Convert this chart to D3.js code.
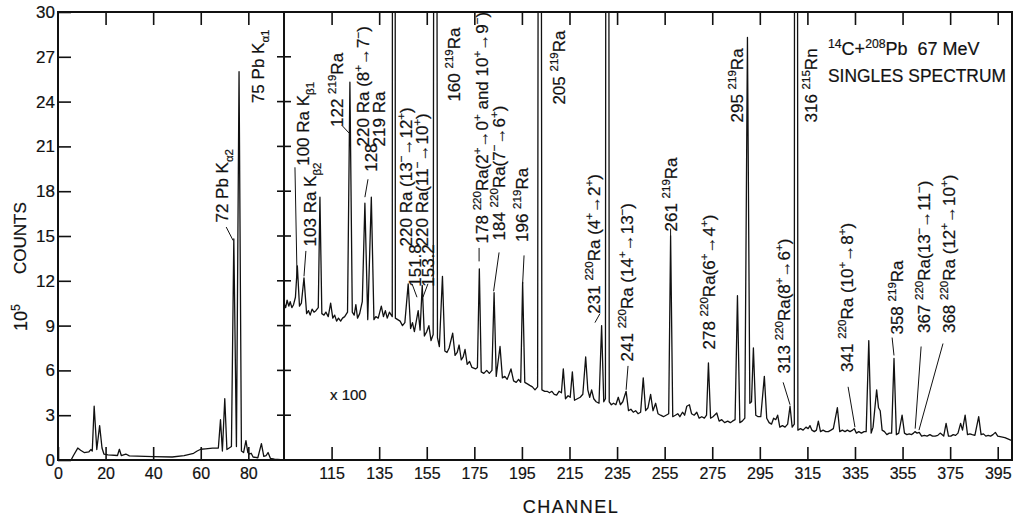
<!DOCTYPE html>
<html lang="en">
<head>
<meta charset="UTF-8">
<title>14C + 208Pb 67 MeV singles spectrum</title>
<script src="https://d3js.org/d3.v7.min.js"></script>
<style>
  body { margin: 0; background: #fff; }
  svg { display: block; font-family: "Liberation Sans", Arial, sans-serif; }
  .frame { fill: none; stroke: #111; stroke-width: 2; }
  .spec { fill: none; stroke: #111; stroke-width: 1.3; stroke-linejoin: round; }
  .tick line, .tk { stroke: #111; stroke-width: 1.6; }
  .lead { stroke: #111; stroke-width: 1; }
  text { fill: #111; white-space: pre; stroke: #111; stroke-width: 0.2px; }
</style>
</head>
<body>
<svg width="1014" height="520"></svg>
<script>
// [channel, counts / 1e5]  -- low channels, true scale
const lowSpectrum = [
  [5.5,0],[6.5,0.3],[8.3,0.8],[9.5,0.65],[11,0.5],[13,0.55],[13.8,0.7],[14.4,0.6],
  [15.2,3.6],[16.3,0.7],[17.5,2.3],[18.5,0.8],[19.3,0.4],[21,0.35],[25,0.3],[25.8,0.72],
  [26.6,0.3],[28.5,0.4],[30,0.28],[40,0.22],[48,0.2],[53,0.3],[57,0.45],[58.5,0.6],
  [60,0.72],[62,0.75],[65,0.8],[67.4,0.8],[68.3,2.7],[69.1,0.6],[70.1,4.1],[71,0.7],
  [72.9,0.9],[73.9,14.8],[75.0,0.9],[76.1,26],[77.1,0.6],[78,0.5],[79,1.3],[79.8,0.5],
  [80.5,0.4],[81.2,0.45],[82,0.2],[84,0.15],[85.5,1.1],[86.5,0.25],[87.5,0.3],[88.3,0.5],
  [89.3,0.1],[91,0.05],[95,0]
];

// [channel, counts / 1e5 x 100] -- high channels, expanded x100 (off-scale peaks > 30)
const highSpectrum = [
  [95,10.5],[95.7,10.2],[96.3,10.7],[97,10.3],[97.6,10.6],[98.3,10.2],[99,10.4],[99.8,10.9],
  [100.6,13.0],[101.5,10.3],[102.3,10.5],[103.4,12.2],[104.5,9.8],[105.3,10.0],[106,9.7],[106.8,10.1],
  [107.6,9.9],[108.4,10.0],[109.4,10.2],[110.1,17.6],[110.9,9.8],[111.8,9.7],[112.6,9.9],[113.6,9.6],
  [114.6,10.5],[115.5,9.5],[116.3,9.7],[117.1,9.3],[117.9,9.5],[118.8,9.3],[119.6,9.5],[120.5,9.6],
  [121.7,9.9],[122.7,25.3],[123.7,9.9],[124.5,9.7],[125.2,10.4],[125.9,9.5],[126.8,9.8],[127.9,10.6],
  [129.0,17.2],[130.2,9.4],[131.7,17.6],[132.8,9.4],[133.6,9.6],[134.6,9.5],[135.9,10.3],[136.8,9.6],
  [137.6,10.0],[138.4,9.5],[139.3,9.9],[140.5,9.6],[140.6,45],[141.7,45],[141.8,9.5],[142.8,9.4],
  [143.8,9.3],[144.8,9.0],[145.8,9.2],[147.2,11.8],[148.2,8.8],[149.0,9.2],[149.8,8.6],[150.6,9.3],
  [151.4,10.0],[152.2,8.7],[153.1,11.7],[154.0,8.3],[155.0,8.6],[155.9,9.0],[156.8,8.0],[157.7,8.4],
  [158.0,45],[159.2,45],[159.5,8.2],[160.3,7.6],[161.6,12.3],[162.6,7.3],[163.5,7.2],[164.4,7.5],
  [165.9,8.5],[166.9,7.0],[167.8,7.2],[168.6,7.7],[169.5,6.7],[170.3,6.9],[171.1,7.4],[172.0,6.4],
  [173.0,6.6],[174.0,6.2],[175.5,6.1],[176.3,6.2],[177.1,12.8],[177.9,5.9],[179.0,5.8],[180.2,6.0],
  [181.3,5.8],[182.4,6.0],[183.3,11.2],[184.2,5.6],[185.8,7.6],[186.8,5.5],[187.8,5.6],[188.8,5.4],
  [190.4,6.1],[191.5,5.3],[192.6,5.2],[193.6,5.4],[194.5,5.2],[195.3,11.9],[196.2,5.2],[197.3,5.1],
  [198.3,5.0],[199.4,4.9],[200.5,4.7],[201.6,4.9],[201.9,45],[203.1,45],[203.4,4.7],[204.6,4.6],
  [205.6,4.6],[206.6,4.5],[207.6,4.6],[208.6,4.4],[209.6,4.35],[210.6,4.6],[211.6,4.5],[212.4,6.1],
  [213.3,4.1],[214.4,4.3],[215.3,4.2],[216.2,5.9],[217.1,4.0],[218.3,4.1],[219.5,4.2],[220.6,4.4],
  [221.8,6.9],[222.7,4.7],[223.5,4.2],[224.3,4.7],[225.2,4.1],[226.2,3.9],[227.4,3.8],[228.5,9.0],
  [229.4,3.9],[230.1,4.1],[230.3,45],[231.5,45],[231.7,3.9],[232.6,3.7],[233.5,3.8],[234.5,3.7],
  [235.5,4.2],[236.4,3.7],[237.4,3.9],[238.8,4.6],[239.8,3.3],[240.8,3.4],[241.8,3.2],[242.8,3.3],
  [243.8,3.1],[244.9,3.2],[246.0,5.5],[247.0,3.3],[248.0,3.5],[249.1,4.4],[250.1,3.3],[251.2,3.8],
  [252.2,3.1],[253.3,3.0],[254.5,2.9],[255.6,3.0],[256.7,3.1],[257.5,15.0],[258.4,2.9],[259.5,3.0],
  [260.5,3.1],[261.4,2.9],[262.5,3.2],[263.4,3.0],[264.3,3.6],[265.4,3.7],[266.3,3.1],[267.4,3.0],
  [268.5,3.2],[269.5,2.8],[270.6,2.9],[271.7,2.8],[272.6,3.0],[273.4,6.5],[274.3,2.8],[275.3,2.9],
  [276.9,3.15],[277.9,2.6],[279.0,2.7],[280.2,2.5],[281.5,2.6],[282.6,2.5],[283.5,2.6],[284.6,2.7],
  [285.6,11.0],[286.6,2.5],[287.6,2.6],[288.7,2.8],[289.8,28.3],[290.8,3.8],[291.5,3.9],[292.3,7.5],
  [293.3,3.0],[294.3,2.9],[295.4,2.9],[296.9,5.6],[297.9,2.8],[298.9,2.5],[299.9,2.4],[300.8,2.8],
  [301.7,2.7],[302.5,3.0],[303.4,2.2],[304.5,2.3],[305.6,2.2],[306.7,2.4],[307.7,3.6],[308.6,2.2],
  [309.5,2.4],[309.6,45],[310.8,45],[311.0,2.0],[312.1,2.1],[313.2,2.0],[314.4,2.2],[315.3,2.1],
  [316.1,2.3],[316.9,2.0],[317.9,1.9],[318.8,2.0],[319.6,2.6],[320.5,1.9],[321.6,2.0],[322.7,1.9],
  [323.8,1.9],[324.9,2.0],[325.9,2.1],[327.6,3.5],[328.6,1.9],[329.7,2.0],[330.8,1.9],[331.8,2.0],
  [332.9,1.9],[334.0,2.0],[334.7,2.1],[335.6,1.8],[336.6,1.9],[337.7,1.8],[338.8,1.9],[339.7,1.9],
  [340.8,8.0],[341.8,1.8],[342.6,2.2],[344.1,4.7],[344.9,3.5],[345.6,3.3],[346.4,2.0],[347.4,1.9],
  [348.4,1.7],[349.4,1.8],[350.4,1.8],[351.4,6.8],[352.4,1.7],[353.4,1.8],[354.8,3.0],[355.8,1.8],
  [356.8,1.7],[357.8,1.75],[358.8,1.7],[359.6,1.8],[360.2,1.9],[361.1,1.8],[362.0,1.85],[363.0,1.6],
  [364.2,1.65],[365.3,1.6],[366.5,1.7],[367.6,1.6],[368.7,1.6],[369.8,1.65],[370.8,1.8],[372.3,1.6],
  [373.3,2.45],[374.3,1.6],[375.3,1.6],[376.3,1.7],[377.3,1.65],[378.3,1.8],[379.4,2.45],[380.2,2.0],
  [381.3,3.0],[382.3,1.7],[383.3,1.75],[384.3,1.7],[385.4,1.65],[387.0,2.9],[388.0,1.7],[389.0,1.75],
  [390.0,1.6],[391.0,1.65],[392.0,1.6],[393.0,1.7],[394.0,1.85],[395.0,1.6],[396.5,1.55],[398.0,1.5],
  [399.5,1.4],[401.0,1.3]
];

const yTickValues = [0, 3, 6, 9, 12, 15, 18, 21, 24, 27, 30];
const xTickLabels = [0, 20, 40, 60, 80, 115, 135, 155, 175, 195, 215, 235, 255, 275, 295, 315, 335, 355, 375, 395];
const xMarks = [20, 40, 60, 80, 115, 135, 155, 175, 195, 215, 235, 255, 275, 295, 315, 335, 355, 375, 395];
const splitChannel = 95;
const maxChannel = 401;

// peak labels: anchor (ch, v) is the start of the rotated text, lead = leader line
const notes = [
  {ch: 86.6, v: 23.9, t: "75 Pb K_{α1}"},
  {ch: 71.5, v: 15.9, t: "72 Pb K_{α2}", lead: [[70.7, 15.6], [73.6, 14.7]]},
  {ch: 105.5, v: 19.7, t: "100 Ra K_{β1}", lead: [[99.6, 19.6], [100.5, 12.1]]},
  {ch: 108.4, v: 14.3, t: "103 Ra K_{β2}", lead: [[104.2, 14.0], [103.4, 12.3]]},
  {ch: 119.8, v: 22.3, t: "122 ^{219}Ra", lead: [[119.4, 22.4], [122.3, 21.9]]},
  {ch: 134.1, v: 19.3, t: "128", lead: [[130.3, 18.8], [129.0, 17.6]]},
  {ch: 130.7, v: 21.0, t: "220 Ra (8^{+}→7^{−})"},
  {ch: 137.5, v: 21.0, t: "219 Ra"},
  {ch: 152.6, v: 11.6, t: "151.8", lead: [[148.8, 11.8], [150.9, 10.9]]},
  {ch: 148.6, v: 14.3, t: "220 Ra (13^{−}→12^{+})"},
  {ch: 158.0, v: 11.6, t: "153.2", lead: [[155.5, 11.8], [153.4, 10.9]]},
  {ch: 155.4, v: 14.3, t: "220 Ra(11^{−}→10^{+})"},
  {ch: 169.0, v: 24.0, t: "160 ^{219}Ra"},
  {ch: 180.8, v: 14.5, t: "178 ^{220}Ra(2^{+}→0^{+} and 10^{+}→9^{−})", lead: [[177.0, 14.2], [177.0, 13.3]]},
  {ch: 187.9, v: 14.7, t: "184 ^{220}Ra(7^{−}→6^{+})", lead: [[185.4, 13.9], [183.1, 11.3]]},
  {ch: 197.6, v: 14.6, t: "196 ^{219}Ra", lead: [[195.9, 13.7], [195.3, 11.8]]},
  {ch: 213.1, v: 23.8, t: "205 ^{219}Ra"},
  {ch: 227.8, v: 9.8, t: "231 ^{220}Ra (4^{+}→2^{+})", lead: [[225.7, 9.2], [227.8, 9.8]]},
  {ch: 241.7, v: 6.6, t: "241 ^{220}Ra (14^{+}→13^{−})", lead: [[239.6, 6.3], [238.8, 4.7]]},
  {ch: 260.2, v: 15.3, t: "261 ^{219}Ra", lead: [[257.5, 15.5], [257.5, 15.0]]},
  {ch: 276.2, v: 7.4, t: "278 ^{220}Ra(6^{+}→4^{+})"},
  {ch: 287.9, v: 22.6, t: "295 ^{219}Ra"},
  {ch: 307.5, v: 5.8, t: "313 ^{220}Ra(8^{+}→6^{+})", lead: [[304.8, 5.2], [307.7, 3.7]]},
  {ch: 319.0, v: 22.6, t: "316 ^{215}Rn"},
  {ch: 334.2, v: 5.9, t: "341 ^{220}Ra (10^{+}→8^{+})", lead: [[332.1, 4.9], [335.0, 2.2]]},
  {ch: 355.2, v: 8.4, t: "358 ^{219}Ra", lead: [[350.6, 8.2], [351.4, 7.0]]},
  {ch: 366.5, v: 8.5, t: "367 ^{220}Ra(13^{−}→11^{−})", lead: [[362.8, 7.6], [360.3, 2.1]]},
  {ch: 377.1, v: 8.5, t: "368 ^{220}Ra (12^{+}→10^{+})", lead: [[372.0, 7.8], [361.9, 2.0]]}
];

const svg = d3.select("svg");
const plotLeft = 58, plotRight = 1012, plotTop = 12, plotBottom = 460;

const x = d3.scaleLinear().domain([0, maxChannel]).range([plotLeft, plotRight]);
const y = d3.scaleLinear().domain([0, 30]).range([plotBottom, plotTop]);
const split = x(splitChannel);

// text with ^{sup} and _{sub} parts
function richText(sel, str, size) {
  const re = /([\^_])\{([^}]*)\}|([^\^_]+)/g;
  let m, off = 0;
  while ((m = re.exec(str))) {
    const kind = m[3] ? 0 : (m[1] === "^" ? -1 : 1);
    const target = kind === -1 ? -size * 0.4 : kind === 1 ? size * 0.3 : 0;
    sel.append("tspan")
      .attr("dy", target - off)
      .attr("font-size", kind ? size * 0.68 : size)
      .text(m[3] || m[2]);
    off = target;
  }
}

const defs = svg.append("defs");
defs.append("clipPath").attr("id", "clipLow").append("rect")
  .attr("x", plotLeft).attr("y", plotTop).attr("width", split - plotLeft).attr("height", plotBottom - plotTop);
defs.append("clipPath").attr("id", "clipHigh").append("rect")
  .attr("x", split).attr("y", plotTop).attr("width", plotRight - split).attr("height", plotBottom - plotTop);

const line = d3.line().x(d => x(d[0])).y(d => y(d[1]));

svg.append("path").datum(lowSpectrum).attr("class", "spec")
  .attr("clip-path", "url(#clipLow)").attr("d", line);
svg.append("path").datum(highSpectrum).attr("class", "spec")
  .attr("clip-path", "url(#clipHigh)").attr("d", line);

// axes
const gx = svg.append("g").attr("transform", `translate(0,${plotBottom})`)
  .call(d3.axisBottom(x).tickValues(xTickLabels).tickSize(-13).tickPadding(8).tickFormat(d3.format("d")));
gx.select(".domain").remove();
gx.selectAll("text").attr("font-size", 16).attr("font-family", "Liberation Sans, Arial, sans-serif");

svg.append("g").attr("transform", `translate(0,${plotTop})`)
  .call(d3.axisTop(x).tickValues(xMarks).tickSize(-13).tickFormat(""))
  .select(".domain").remove();

const gy = svg.append("g").attr("transform", `translate(${plotLeft},0)`)
  .call(d3.axisLeft(y).tickValues(yTickValues).tickSize(-13).tickPadding(3));
gy.select(".domain").remove();
gy.selectAll("text").attr("font-size", 17).attr("font-family", "Liberation Sans, Arial, sans-serif");

// ticks across the divider
svg.append("g").selectAll("line").data(yTickValues.slice(1, -1)).join("line")
  .attr("class", "tk")
  .attr("x1", split - 7).attr("x2", split + 7)
  .attr("y1", d => y(d)).attr("y2", d => y(d));

// frame + divider
svg.append("rect").attr("class", "frame")
  .attr("x", plotLeft).attr("y", plotTop).attr("width", plotRight - plotLeft).attr("height", plotBottom - plotTop);
svg.append("line").attr("class", "frame")
  .attr("x1", split).attr("x2", split).attr("y1", plotTop).attr("y2", plotBottom);

// peak labels
notes.forEach(n => {
  const t = svg.append("text")
    .attr("transform", `translate(${x(n.ch)},${y(n.v)}) rotate(-90)`);
  richText(t, n.t, 17);
  if (n.lead) {
    svg.append("line").attr("class", "lead")
      .attr("x1", x(n.lead[0][0])).attr("y1", y(n.lead[0][1]))
      .attr("x2", x(n.lead[1][0])).attr("y2", y(n.lead[1][1]));
  }
});

// titles
const t1 = svg.append("text").attr("x", 828).attr("y", 55);
richText(t1, "^{14}C+^{208}Pb  67 MeV", 18);
svg.append("text").attr("x", 828).attr("y", 82).attr("font-size", 18)
  .attr("textLength", 178).attr("lengthAdjust", "spacingAndGlyphs").text("SINGLES SPECTRUM");

svg.append("text").attr("x", 330).attr("y", 400).attr("font-size", 15).text("x 100");

// axis titles
svg.append("text").attr("x", 571).attr("y", 513).attr("text-anchor", "middle")
  .attr("font-size", 18).attr("letter-spacing", 1.5).text("CHANNEL");
const yl = svg.append("text").attr("transform", "translate(27,331) rotate(-90)");
richText(yl, "10^{5}", 18);
svg.append("text").attr("transform", "translate(26,274) rotate(-90)")
  .attr("font-size", 17).text("COUNTS");
</script>
</body>
</html>
